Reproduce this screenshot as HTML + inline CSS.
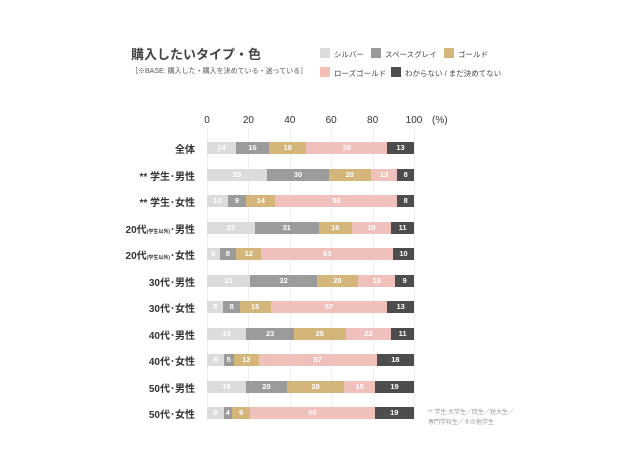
<!DOCTYPE html><html><head><meta charset="utf-8"><style>
body{margin:0;background:#fff;width:639px;height:471px;position:relative;overflow:hidden;font-family:"Liberation Sans","Noto Sans CJK JP",sans-serif;}
.a{position:absolute;white-space:nowrap}
.sw{position:absolute;width:10px;height:10px}
.lg{position:absolute;font-size:7.5px;color:#444;white-space:nowrap}
.lab{position:absolute;right:444px;font-size:10px;font-weight:bold;color:#333;white-space:nowrap;text-align:right}
.seg{position:absolute;height:12px;font-size:7.5px;color:#fff;text-align:center;line-height:12px;font-weight:bold}
.g{position:absolute;top:128px;width:1px;height:290px;background:#eee}
.t{position:absolute;top:115px;font-size:10px;color:#333;transform:translateX(-50%)}
</style></head><body>
<div class="a" style="left:131px;top:44px;font-size:13px;font-weight:bold;color:#444">購入したいタイプ・色</div>
<div class="a" style="left:131px;top:66px;font-size:7px;color:#555">［※BASE: 購入した・購入を決めている・迷っている］</div>
<div class="sw" style="left:320px;top:48px;background:#dcdcdc"></div><div class="lg" style="left:334px;top:49px">シルバー</div>
<div class="sw" style="left:371px;top:48px;background:#9b9b9b"></div><div class="lg" style="left:385px;top:49px">スペースグレイ</div>
<div class="sw" style="left:444px;top:48px;background:#d4b57a"></div><div class="lg" style="left:458px;top:49px">ゴールド</div>
<div class="sw" style="left:320px;top:67px;background:#f6bfb6"></div><div class="lg" style="left:334px;top:68px">ローズゴールド</div>
<div class="sw" style="left:391px;top:67px;background:#4d4d4d"></div><div class="lg" style="left:405px;top:68px">わからない / まだ決めてない</div>
<div id="grid"></div>
<div class="a" style="left:428px;top:408px;font-size:6px;color:#999;line-height:10px">** 学生:大学生／院生／短大生／<br>専門学校生／その他学生</div>
<script>
var x0=207,w=207;
var h='';
[0,20,40,60,80,100].forEach(function(v){var x=x0+w*v/100;h+='<div class="g" style="left:'+x+'px"></div><div class="t" style="left:'+x+'px">'+v+'</div>';});
h+='<div class="a" style="left:432px;top:115px;font-size:10px;color:#333">(%)</div>';
var rows=[["全体",[14,16,18,39,13]],["** 学生･男性",[29,30,20,13,8]],["** 学生･女性",[10,9,14,59,8]],["20代<span style=\"font-size:5px\">(学生以外)</span>･男性",[23,31,16,19,11]],["20代<span style=\"font-size:5px\">(学生以外)</span>･女性",[6,8,12,63,10]],["30代･男性",[21,32,20,18,9]],["30代･女性",[8,8,15,57,13]],["40代･男性",[19,23,25,22,11]],["40代･女性",[8,5,12,57,18]],["50代･男性",[19,20,28,15,19]],["50代･女性",[8,4,9,60,19]]];
var cols=["#dcdcdc","#9b9b9b","#d4b57a","#f0c0bc","#4d4d4d"];
rows.forEach(function(r,i){var y=148+i*26.5;h+='<div class="lab" style="top:'+(y-7)+'px">'+r[0]+'</div>';
var s=r[1].reduce(function(a,b){return a+b},0),x=x0;
r[1].forEach(function(v,j){var ww=w*v/s;h+='<div class="seg" style="left:'+x+'px;top:'+(y-6)+'px;width:'+ww+'px;background:'+cols[j]+'">'+v+'</div>';x+=ww;});});
document.getElementById('grid').innerHTML=h;
</script>
</body></html>
